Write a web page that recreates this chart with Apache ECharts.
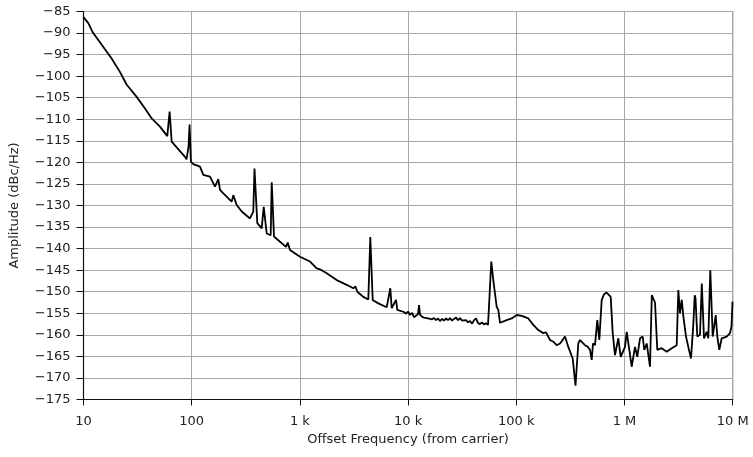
<!DOCTYPE html>
<html><head><meta charset="utf-8">
<script src="https://cdn.jsdelivr.net/npm/echarts@6/dist/echarts.min.js"></script>
<style>html,body{margin:0;padding:0;background:#fff}#c{width:753px;height:457px}</style>
</head><body><div id="c"></div>
<script>
const freqs = [10,11.08,11.9,12.3,18.2,21.7,25.1,31.0,37.0,42.7,50.9,59.5,61.3,62.5,63.4,65.3,86.7,89.6,93.4,95.6,97.1,98.3,103.5,
119.3,128,147.6,164.2,176.1,182.6,196,234.3,242.4,260.5,289.8,345.7,370.9,380.5,387,404,443.6,462.9,472.9,493.4,537.2,548.8,558.3,576.3,654.9,743.9,771.4,809.9,
1002,1240,1430,1534,1769,2188,2707,3115,3265,3393,3855,4288,4474,4550,4708,5304,6342,6848,7055,7731,7948,
9166,9565,9981,10415,10868,11341,11834,12349,12617,12886,13447,14032,14642,15279,15943,16637,17361,18116,18904,19726,20584,21480,22414,23389,24406,25468,26576,27732,28938,30197,31511,32881,34311,35804,37361,38986,40682,42452,44298,46225,48236,50334,52524,54808,57130,
58730,59860,61290,65890,68170,70700,81540,90700,100900,112200,129100,143600,159700,177600,188200,204900,219800,236300,253400,264500,281900,302400,332200,352500,360100,374200,
387900,431300,459900,479900,497700,511600,533900,560700,585100,615700,646500,684600,711300,745500,777900,817100,876500,922400,
1011000,1048000,1108000,1165000,1250000,1313000,1391000,1473000,1524000,1604000,1721000,1788000,1846000,1914000,2010000,2207000,2455000,2731000,3037000,3143000,3257000,3379000,3510000,3702000,3887000,4117000,4324000,4455000,4532000,4707000,4986000,5180000,5269000,5429000,5750000,5950000,6209000,6302000,6535000,6966000,7207000,7520000,7913000,8800000,9441000,9747000,9958000];
const amps = [-86.3,-87.7,-89.3,-90,-95.9,-99,-102,-104.8,-107.5,-109.8,-111.7,-113.9,-114.2,-108.2,-108.5,-115.2,-118.7,-119.3,-116.4,-111.2,-111.5,-119.8,-120.4,
-121.0,-122.9,-123.3,-125.6,-123.9,-126.4,-127.2,-129.1,-127.6,-129.9,-131.4,-133.0,-131.4,-121.4,-121.6,-134.1,-135.3,-130.3,-130.5,-136.5,-136.9,-124.6,-124.8,-137.2,-138.4,-139.6,-138.6,-140.3,
-141.9,-143.0,-144.6,-144.8,-145.7,-147.3,-148.4,-149.2,-148.8,-150,-151.2,-151.8,-137.3,-137.5,-151.9,-152.7,-153.6,-149.2,-153.8,-151.9,-154.2,
-154.7,-155.1,-154.6,-155.4,-154.9,-155.9,-155.6,-155.2,-153.1,-155.3,-155.8,-156.0,-155.6,-156.2,-155.9,-156.4,-156.1,-156.6,-156.2,-156.8,-156.3,-156.7,-156.2,-156.6,-156.1,-156.7,-156.3,-156.0,-156.6,-156.1,-156.7,-156.9,-156.6,-157.1,-156.8,-157.4,-156.6,-156.2,-157.3,-157.5,-157.1,-157.6,-157.3,-157.7,-157.4,
-143.0,-143.3,-147.3,-153.5,-154.2,-157.2,-156.6,-156.2,-155.4,-155.6,-156.2,-157.7,-158.9,-159.6,-159.4,-161.2,-161.6,-162.4,-162,-161.4,-160.4,-162.8,-165.5,-171.8,-171.5,-162,
-161.2,-162.4,-162.8,-163.5,-165.8,-162,-162.4,-156.6,-161.2,-151.9,-150.6,-150.2,-150.6,-151.2,-159.6,-164.7,-160.8,-165.1,
-162.8,-159.3,-163.5,-167.4,-162.8,-165.1,-160.8,-160.4,-163.5,-162,-167.4,-150.8,-151,-152.5,-163.5,-163.1,-163.9,-163.1,-162.4,-149.6,-155,-151.9,-156,-160.4,-162.8,-165.5,-157.7,-150.8,-151.5,-160.4,-160,-148.1,-148.3,-160.8,-159.3,-160.8,-145,-145.2,-160.4,-155.4,-160.4,-163.5,-160.8,-160.4,-159.6,-158,-152.3];
const xTickLabels = {10:'10',100:'100',1000:'1 k',10000:'10 k',100000:'100 k',1000000:'1 M',10000000:'10 M'};
const xName = 'Offset Frequency (from carrier)';
const yName = 'Amplitude (dBc/Hz)';

const chart = echarts.init(document.getElementById('c'), null, {renderer:'canvas'});
const font = '"DejaVu Sans", sans-serif';
chart.setOption({
  animation:false,
  backgroundColor:'#fff',
  grid:{left:83.5,right:20.3,top:11.5,bottom:57.5,show:true,borderColor:'#222',borderWidth:1,backgroundColor:'transparent'},
  xAxis:{type:'log',logBase:10,min:10,max:1e7,
    name:xName,nameLocation:'middle',nameGap:33,
    nameTextStyle:{fontFamily:font,fontSize:13,color:'#222'},
    axisLine:{show:true,lineStyle:{color:'#111',width:1.2}},
    axisTick:{show:true,length:6,lineStyle:{color:'#111'}},
    minorTick:{show:false},
    axisLabel:{fontFamily:font,fontSize:13,color:'#222',margin:16,formatter:v=>xTickLabels[Math.round(v)]||''},
    splitLine:{show:true,lineStyle:{color:'#a8a8a8',width:1}}
  },
  yAxis:{type:'value',min:-175,max:-85,interval:5,
    name:yName,nameLocation:'middle',nameGap:62,nameRotate:90,
    nameTextStyle:{fontFamily:font,fontSize:13,color:'#222'},
    axisLine:{show:true,lineStyle:{color:'#111',width:1.2}},
    axisTick:{show:true,length:7,lineStyle:{color:'#111'}},
    axisLabel:{fontFamily:font,fontSize:13,color:'#222',margin:13,formatter:v=>String(v).replace('-','\u2212')},
    splitLine:{show:true,lineStyle:{color:'#a8a8a8',width:1}}
  },
  series:[{type:'line',data:freqs.map((f,i)=>[f,amps[i]]),showSymbol:false,
    lineStyle:{color:'#000',width:1.8},itemStyle:{color:'#000'}}]
});
</script></body></html>
